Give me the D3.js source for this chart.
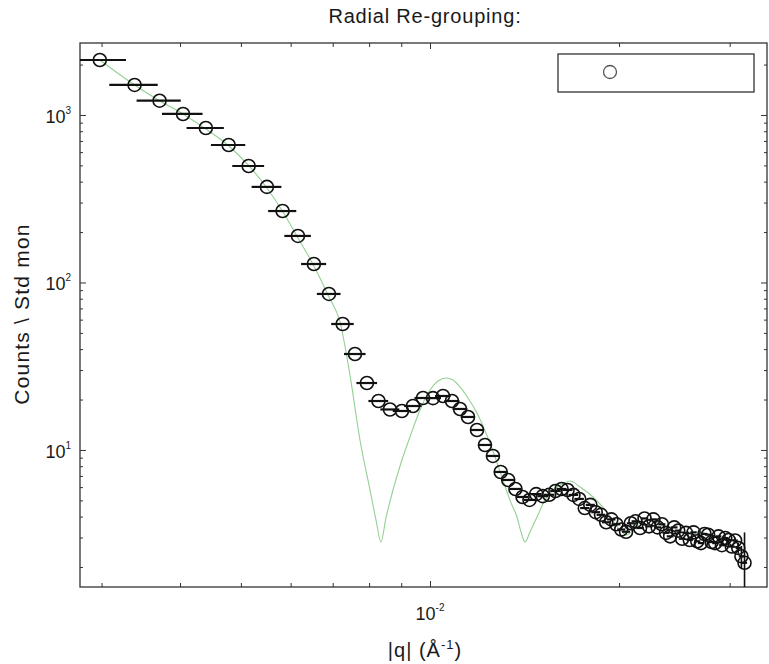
<!DOCTYPE html>
<html>
<head>
<meta charset="utf-8">
<script src="https://cdn.jsdelivr.net/npm/d3@7"></script>
<style>
  body { margin: 0; background: #fff; }
  text { font-family: "Liberation Sans", Arial, sans-serif; fill: #1a1a1a; }
</style>
</head>
<body>
<div class="display"></div>
<script>
const WIDTH = 769;
const HEIGHT = 664;
const PLOT = { left: 80, right: 767, top: 43, bottom: 587 };

const TITLE = 'Radial Re-grouping:';
const Y_LABEL = 'Counts \\ Std mon';

// measured points, |q| in 1/Angstrom
const qData = [
  0.002981, 0.003386, 0.003711, 0.004044, 0.004397, 0.004780, 0.005144, 0.005500,
  0.005825, 0.006163, 0.006534, 0.006905, 0.007261, 0.007596, 0.007936, 0.008279,
  0.008636, 0.009023, 0.009395, 0.009748, 0.010111, 0.010488, 0.010839, 0.011164,
  0.011496, 0.011880, 0.012233, 0.012596, 0.01296, 0.01332, 0.01368, 0.01404,
  0.01440, 0.01476, 0.01512, 0.01548, 0.01584, 0.01620, 0.01656, 0.01692,
  0.01728, 0.01764, 0.01800, 0.01836, 0.01872, 0.01908, 0.01944, 0.01980,
  0.02016, 0.02052, 0.02088, 0.02124, 0.02160, 0.02196, 0.02232, 0.02268,
  0.02304, 0.02340, 0.02376, 0.02412, 0.02448, 0.02484, 0.02520, 0.02556,
  0.02592, 0.02628, 0.02664, 0.02700, 0.02736, 0.02772, 0.02808, 0.02844,
  0.02880, 0.02916, 0.02952, 0.02988, 0.03024, 0.03060, 0.03096, 0.03132,
  0.03168
];

const countsData = [
  2130, 1511, 1217, 1014, 836, 662, 496, 372,
  267, 189.6, 128.9, 85.4, 56.5, 37.4, 25.1, 19.6,
  17.45, 17.09, 18.3, 20.43, 20.4, 21.0, 19.6, 17.57,
  15.74, 13.16, 10.71, 9.21, 7.39, 6.62, 5.85, 5.24,
  5.03, 5.45, 5.30, 5.40, 5.69, 5.85, 5.77, 5.39,
  5.1, 4.5, 4.7, 4.25, 4.1, 3.7, 3.85, 3.6,
  3.35, 3.25, 3.65, 3.75, 3.42, 3.9, 3.5, 3.85,
  3.45, 3.6, 3.2, 3.05, 3.45, 3.3, 2.95, 3.2,
  2.9, 3.22, 2.85, 2.78, 3.15, 3.12, 2.82, 2.78,
  3.05, 2.7, 2.98, 2.9, 2.65, 2.88, 2.6, 2.32,
  2.12
];

// horizontal (q resolution) half width, and vertical error on the last points
const Q_ERR = 0.0003;
const countsErrTail = [0.12, 0.2, 0.35, 1.1];

// fitted model curve
const qModel = [
  0.002981, 0.003386, 0.003716, 0.004044, 0.004397, 0.004786, 0.005151, 0.005500,
  0.005834, 0.006163, 0.006534, 0.006905, 0.007190, 0.007458, 0.007736, 0.008026,
  0.008204, 0.008356, 0.008509, 0.008732, 0.008991, 0.009293, 0.009640, 0.010000,
  0.010297, 0.010605, 0.010879, 0.011163, 0.011495, 0.011880, 0.012457, 0.013067,
  0.013459, 0.013757, 0.013961, 0.014168, 0.014428, 0.014805, 0.015245, 0.015701,
  0.016228, 0.016711, 0.017338, 0.018183, 0.019133, 0.020065, 0.020590, 0.021357,
  0.022399, 0.023846, 0.025288, 0.026915, 0.028226, 0.029717, 0.031168, 0.031747
];

const countsModel = [
  2130, 1511, 1212, 1014, 825, 653, 496, 366.6,
  263.7, 184.4, 125.5, 81.9, 58.1, 28.0, 11.47, 5.77,
  3.82, 2.82, 3.93, 5.77, 8.36, 11.96, 17.33, 22.81,
  25.83, 26.91, 26.18, 23.78, 20.44, 16.63, 11.01, 6.62,
  4.83, 3.98, 3.24, 2.82, 3.24, 3.98, 5.03, 5.77,
  6.27, 6.53, 6.01, 5.24, 4.26, 3.33, 3.11, 3.57,
  3.82, 3.42, 3.20, 3.24, 3.07, 2.94, 2.82, 2.71
];

const xMinorTicks = [0.003, 0.004, 0.005, 0.006, 0.007, 0.008, 0.009, 0.02, 0.03];
const xMajorTicks = [0.01];
const yMajorTicks = [10, 100, 1000];
const yMinorTicks = [2, 3, 4, 5, 6, 7, 8, 9, 20, 30, 40, 50, 60, 70, 80, 90,
  200, 300, 400, 500, 600, 700, 800, 900, 2000];

const svg = d3.select('.display')
  .append('svg')
  .attr('width', WIDTH)
  .attr('height', HEIGHT);

const x = d3.scaleLog()
  .domain([0.002772, 0.0344])
  .range([PLOT.left, PLOT.right]);

const y = d3.scaleLog()
  .domain([1.52, 2690])
  .range([PLOT.bottom, PLOT.top]);

svg.append('defs').append('clipPath')
  .attr('id', 'plot-clip')
  .append('rect')
  .attr('x', PLOT.left)
  .attr('y', PLOT.top)
  .attr('width', PLOT.right - PLOT.left)
  .attr('height', PLOT.bottom - PLOT.top);

// inward ticks on all four sides
function drawTicks(axisFn, scale, values, size, transform) {
  const g = svg.append('g')
    .attr('transform', transform)
    .call(axisFn(scale).tickValues(values).tickSize(size).tickFormat(''));
  g.select('.domain').remove();
  g.selectAll('.tick line').attr('stroke', '#333').attr('stroke-width', 1);
  return g;
}

drawTicks(d3.axisBottom, x, xMinorTicks, -4, `translate(0, ${PLOT.bottom})`);
drawTicks(d3.axisBottom, x, xMajorTicks, -6, `translate(0, ${PLOT.bottom})`);
drawTicks(d3.axisTop, x, xMinorTicks, -4, `translate(0, ${PLOT.top})`);
drawTicks(d3.axisTop, x, xMajorTicks, -6, `translate(0, ${PLOT.top})`);
drawTicks(d3.axisLeft, y, yMinorTicks, -3, `translate(${PLOT.left}, 0)`);
drawTicks(d3.axisLeft, y, yMajorTicks, -6, `translate(${PLOT.left}, 0)`);
drawTicks(d3.axisRight, y, yMinorTicks, -3, `translate(${PLOT.right}, 0)`);
drawTicks(d3.axisRight, y, yMajorTicks, -6, `translate(${PLOT.right}, 0)`);

// power-of-ten tick labels
function powerLabel(px, py, exp, anchor) {
  const t = svg.append('text')
    .attr('x', px)
    .attr('y', py)
    .attr('text-anchor', anchor)
    .style('font-size', '18px');
  t.append('tspan').text('10');
  t.append('tspan')
    .attr('dy', -9)
    .style('font-size', '10px')
    .text(exp);
}

xMajorTicks.forEach(v => powerLabel(x(v), 620, Math.round(Math.log10(v)), 'middle'));
yMajorTicks.forEach(v => powerLabel(PLOT.left - 9, y(v) + 8, Math.round(Math.log10(v)), 'end'));

// frame
svg.append('rect')
  .attr('x', PLOT.left)
  .attr('y', PLOT.top)
  .attr('width', PLOT.right - PLOT.left)
  .attr('height', PLOT.bottom - PLOT.top)
  .attr('fill', 'none')
  .attr('stroke', '#333')
  .attr('stroke-width', 1.3);

const plotGroup = svg.append('g').attr('clip-path', 'url(#plot-clip)');

const points = qData.map((q, i) => ({ q, c: countsData[i] }));
const tailStart = points.length - countsErrTail.length;

// model line
plotGroup.append('path')
  .datum(qModel.map((q, i) => [q, countsModel[i]]))
  .attr('fill', 'none')
  .attr('stroke', '#94d094')
  .attr('stroke-width', 1.1)
  .attr('d', d3.line().curve(d3.curveMonotoneX).x(d => x(d[0])).y(d => y(d[1])));

// horizontal error bars
plotGroup.selectAll('.xerr')
  .data(points)
  .enter()
  .append('line')
  .attr('class', 'xerr')
  .attr('x1', d => x(d.q - Q_ERR))
  .attr('x2', d => x(d.q + Q_ERR))
  .attr('y1', d => y(d.c))
  .attr('y2', d => y(d.c))
  .attr('stroke', '#111')
  .attr('stroke-width', 2.2);

// vertical error bars on the last points
plotGroup.selectAll('.yerr')
  .data(points.slice(tailStart))
  .enter()
  .append('line')
  .attr('class', 'yerr')
  .attr('x1', d => x(d.q))
  .attr('x2', d => x(d.q))
  .attr('y1', (d, i) => y(d.c + countsErrTail[i]))
  .attr('y2', (d, i) => y(Math.max(d.c - countsErrTail[i], 1)))
  .attr('stroke', '#111')
  .attr('stroke-width', 1.6);

plotGroup.selectAll('.point')
  .data(points)
  .enter()
  .append('circle')
  .attr('class', 'point')
  .attr('cx', d => x(d.q))
  .attr('cy', d => y(d.c))
  .attr('r', 6.5)
  .attr('fill', 'none')
  .attr('stroke', '#111')
  .attr('stroke-width', 1.6);

// legend
const legendGroup = svg.append('g');
legendGroup.append('rect')
  .attr('x', 558)
  .attr('y', 54)
  .attr('width', 196)
  .attr('height', 38)
  .attr('fill', '#fff')
  .attr('stroke', '#333')
  .attr('stroke-width', 1.3);
legendGroup.append('circle')
  .attr('cx', 610)
  .attr('cy', 72)
  .attr('r', 6.5)
  .attr('fill', 'none')
  .attr('stroke', '#555')
  .attr('stroke-width', 1.3);

// titles
svg.append('text')
  .attr('x', 425)
  .attr('y', 23)
  .attr('text-anchor', 'middle')
  .style('font-size', '20px')
  .style('letter-spacing', '0.8px')
  .text(TITLE);

svg.append('text')
  .attr('transform', `translate(29, 314) rotate(-90)`)
  .attr('text-anchor', 'middle')
  .style('font-size', '21px')
  .style('letter-spacing', '1.2px')
  .text(Y_LABEL);

const xl = svg.append('text')
  .attr('x', 425)
  .attr('y', 657)
  .attr('text-anchor', 'middle')
  .style('font-size', '20px')
  .style('letter-spacing', '1px');
xl.append('tspan').text('|q| (Å');
xl.append('tspan').attr('dy', -8).style('font-size', '13px').text('-1');
xl.append('tspan').attr('dy', 8).text(')');
</script>
</body>
</html>
